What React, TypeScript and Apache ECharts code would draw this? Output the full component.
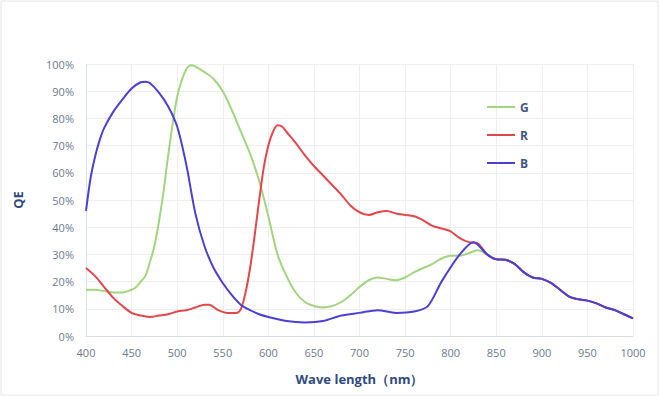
import React, { useEffect, useRef } from "react";
import * as echarts from "echarts";

const xTicks = [400, 450, 500, 550, 600, 650, 700, 750, 800, 850, 900, 950, 1000];
const yTicks = [0, 10, 20, 30, 40, 50, 60, 70, 80, 90, 100];

const tailWave = [840, 850, 860, 870, 880, 890, 900, 910, 920, 930, 940, 950, 960, 970, 980, 990, 1000];
const tailQE = [30, 28.2, 28, 26.5, 23.5, 21.5, 21, 19.5, 17, 14.5, 13.5, 13, 12, 10.5, 9.5, 8, 6.5];

const gWave = [400, 410, 420, 430, 440, 450, 455, 460, 465, 470, 475, 480, 485, 490, 495, 500, 505, 510, 515, 520, 530, 540, 550, 560, 570, 580, 590, 600, 610, 620, 630, 640, 650, 660, 670, 680, 690, 700, 710, 720, 730, 740, 750, 760, 770, 780, 790, 800, 810, 820, 830];
const gQE = [17, 17, 16.5, 16, 16, 17, 18, 20, 22, 27, 33, 42, 53, 66, 78, 88, 94, 98, 99.5, 99, 97, 94.5, 90, 83, 75, 67, 57, 44, 30, 22, 16, 12.5, 11, 10.5, 11, 12.5, 15, 18, 20.5, 21.5, 21, 20.5, 21.5, 23.5, 25, 26.5, 28.5, 29.5, 29.5, 30.5, 31.5];

const rWave = [400, 410, 420, 430, 440, 450, 460, 470, 480, 490, 500, 510, 520, 530, 535, 545, 555, 565, 570, 575, 580, 585, 590, 595, 600, 605, 610, 615, 620, 630, 640, 650, 660, 670, 680, 690, 700, 710, 720, 730, 740, 750, 760, 770, 780, 790, 800, 810, 820, 830];
const rQE = [25, 22, 18, 14, 11, 8.5, 7.5, 7, 7.5, 8, 9, 9.5, 10.5, 11.5, 11.5, 9.5, 8.5, 8.5, 10, 16, 25, 37, 50, 62, 70, 75, 77.5, 77, 75, 71, 66.5, 62.5, 59, 55.5, 52, 48, 45.5, 44.5, 45.5, 46, 45, 44.5, 44, 42.5, 40.5, 39.5, 38.5, 36, 34.5, 34];

const bWave = [400, 405, 410, 415, 420, 430, 440, 450, 460, 465, 470, 480, 490, 500, 510, 520, 530, 540, 550, 560, 570, 580, 590, 600, 620, 640, 660, 680, 700, 720, 740, 760, 775, 790, 810, 825];
const bQE = [46, 58, 66, 72, 76.5, 82.5, 87, 91, 93.3, 93.5, 93, 89.5, 84.5, 77, 63, 45, 33, 25, 19.5, 15, 11.4, 9.5, 8, 7, 5.5, 5, 5.5, 7.5, 8.5, 9.5, 8.5, 9, 11, 20, 30, 34.5];

const seriesNames = ["G", "R", "B"];
const seriesColors = ["#a3d47f", "#e4474b", "#4b3fd4"];

function pairs(w: number[], v: number[], tail: boolean) {
  const out: number[][] = w.map((x, i) => [x, v[i]]);
  if (tail) tailWave.forEach((x, i) => out.push([x, tailQE[i]]));
  return out;
}

export default function App() {
  const ref = useRef<HTMLDivElement>(null);
  useEffect(() => {
    if (!ref.current) return;
    const chart = echarts.init(ref.current, undefined, { renderer: "svg" });
    const data = [pairs(gWave, gQE, true), pairs(rWave, rQE, true), pairs(bWave, bQE, true)];
    chart.setOption({
      animation: false,
      backgroundColor: "#ffffff",
      grid: { left: 86, right: 26, top: 64, bottom: 60, containLabel: false },
      legend: {
        orient: "vertical",
        left: 482,
        top: 96,
        itemWidth: 28,
        itemHeight: 14,
        itemGap: 16,
        icon: "path://M0,6 L28,6 L28,8 L0,8 Z",
        textStyle: { color: "#3f5683", fontWeight: "bold", fontSize: 12, fontFamily: "Open Sans" },
        data: seriesNames,
      },
      xAxis: {
        type: "value",
        min: xTicks[0],
        max: xTicks[xTicks.length - 1],
        interval: 50,
        name: "Wave length（nm）",
        nameLocation: "middle",
        nameGap: 36,
        nameTextStyle: { color: "#2f4a7c", fontWeight: "bold", fontSize: 13, fontFamily: "Open Sans" },
        axisLine: { show: true, lineStyle: { color: "#d9dee6" } },
        axisTick: { show: false },
        axisLabel: { color: "#6d7a8c", fontSize: 11, margin: 11, fontFamily: "Open Sans", formatter: (v: number) => String(v) },
        splitLine: { show: true, lineStyle: { color: "#eeeeee" } },
      },
      yAxis: {
        type: "value",
        min: yTicks[0],
        max: yTicks[yTicks.length - 1],
        interval: 10,
        name: "QE",
        nameLocation: "middle",
        nameGap: 62,
        nameRotate: 90,
        nameTextStyle: { color: "#2f4a7c", fontWeight: "bold", fontSize: 13, fontFamily: "Open Sans" },
        axisLine: { show: true, lineStyle: { color: "#d9e2ee" } },
        axisTick: { show: false },
        axisLabel: { color: "#6d7a8c", fontSize: 11, margin: 12, formatter: "{value}%", fontFamily: "Open Sans" },
        splitLine: { show: true, lineStyle: { color: "#eeeeee" } },
      },
      series: seriesNames.map((n, i) => ({
        name: n,
        type: "line",
        smooth: 0.3,
        symbol: "none",
        data: data[i],
        lineStyle: { color: seriesColors[i], width: 2 },
        itemStyle: { color: seriesColors[i] },
        z: i === 2 ? 3 : 2,
      })),
      graphic: [
        {
          type: "rect",
          shape: { x: 1, y: 1, width: 657, height: 394 },
          style: { fill: "none", stroke: "#e6e6e6", lineWidth: 1 },
          silent: true,
        },
      ],
    });
    return () => chart.dispose();
  }, []);
  return (
    <div
      ref={ref}
      style={{ position: "fixed", left: 0, top: 0, width: 659, height: 396 }}
    />
  );
}
